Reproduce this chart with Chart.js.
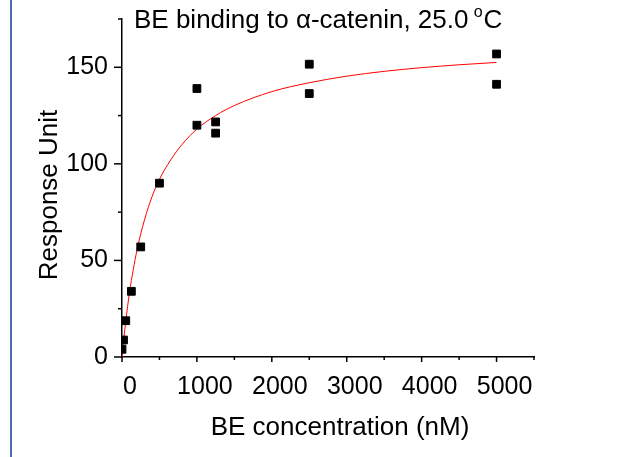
<!DOCTYPE html>
<html>
<head>
<meta charset="utf-8">
<script src="https://cdn.jsdelivr.net/npm/chart.js@4.4.1/dist/chart.umd.min.js"></script>
<style>
    html, body { margin: 0; padding: 0; background: #fff; }
</style>
</head>
<body>
<canvas id="graficoUnion" width="620" height="457"></canvas>
<script>
// puntos medidos (nM, RU)
const concentracion = [0, 20, 50, 125, 250, 500, 1000, 1000, 1250, 1250, 2500, 2500, 5000, 5000];
const respuesta = [4, 8.8, 18.8, 34, 57, 90, 120, 139, 121.7, 115.9, 151.6, 136.4, 156.9, 141.2];

// curva de ajuste
const ajusteX = [0, 25, 50, 100, 150, 200, 300, 400, 500, 650, 800, 1000, 1250, 1500, 2000, 2500, 3000, 3500, 4000, 4500, 5000];
const ajusteY = [0, 9.8, 18.3, 33.5, 45.1, 55.3, 71, 82.9, 92, 102, 110, 118, 125, 130.2, 137.4, 142, 145.4, 147.9, 149.8, 151.3, 152.5];

// marcas de los ejes
const marcasX = [0, 1000, 2000, 3000, 4000, 5000];
const marcasY = [0, 50, 100, 150];

const titulo = 'BE binding to \u03b1-catenin, 25.0 ';
const tituloX = 'BE concentration (nM)';
const tituloY = 'Response Unit';

const fuente = '"Liberation Sans", Arial, sans-serif';

const puntos = concentracion.map((c, i) => ({ x: c, y: respuesta[i] }));
const curva = ajusteX.map((c, i) => ({ x: c, y: ajusteY[i] }));

// dibuja marcas, titulos y la linea azul
const extras = {
    id: 'extras',
    afterDraw(chart) {
        const ctx = chart.ctx;
        const sx = chart.scales.x;
        const sy = chart.scales.y;
        const area = chart.chartArea;
        ctx.save();

        // linea azul a la izquierda
        ctx.strokeStyle = '#4a6ea9';
        ctx.lineWidth = 2;
        ctx.beginPath();
        ctx.moveTo(11, 0);
        ctx.lineTo(11, 457);
        ctx.stroke();

        // marcas del eje x
        ctx.strokeStyle = '#000';
        ctx.lineWidth = 1.5;
        for (let v = 0; v <= 5500; v += 500) {
            const px = sx.getPixelForValue(v);
            const largo = marcasX.includes(v) ? 5 : 3;
            ctx.beginPath();
            ctx.moveTo(px, area.bottom);
            ctx.lineTo(px, area.bottom + largo);
            ctx.stroke();
        }
        // marcas del eje y
        for (let v = 0; v <= 175; v += 25) {
            const py = sy.getPixelForValue(v);
            const largo = marcasY.includes(v) ? 8 : 4;
            ctx.beginPath();
            ctx.moveTo(area.left, py);
            ctx.lineTo(area.left - largo, py);
            ctx.stroke();
        }

        ctx.fillStyle = '#000';
        // titulo con el simbolo de grado
        ctx.font = '26px ' + fuente;
        ctx.textAlign = 'left';
        ctx.textBaseline = 'alphabetic';
        ctx.fillText(titulo, 134, 28);
        let w = ctx.measureText(titulo).width;
        ctx.font = '16px ' + fuente;
        ctx.fillText('o', 134 + w - 2, 17);
        const wo = ctx.measureText('o').width;
        ctx.font = '26px ' + fuente;
        ctx.fillText('C', 134 + w - 2 + wo + 1, 28);

        // titulo eje x
        ctx.textAlign = 'center';
        ctx.fillText(tituloX, 340, 435);

        // titulo eje y
        ctx.translate(50, 195);
        ctx.rotate(-Math.PI / 2);
        ctx.textBaseline = 'middle';
        ctx.fillText(tituloY, 0, 0);
        ctx.restore();
    }
};

const ctx = document.getElementById('graficoUnion').getContext('2d');
const graficoUnion = new Chart(ctx, {
    type: 'scatter',
    data: {
        datasets: [{
            label: 'datos',
            data: puntos,
            pointStyle: 'rect',
            pointRadius: 5.5,
            backgroundColor: '#000',
            borderColor: '#000',
            borderWidth: 1,
            order: 0
        }, {
            label: 'ajuste',
            data: curva,
            showLine: true,
            borderColor: '#ff0000',
            borderWidth: 1,
            pointRadius: 0,
            cubicInterpolationMode: 'monotone',
            order: 1
        }]
    },
    options: {
        responsive: false,
        animation: false,
        devicePixelRatio: 1,
        layout: { padding: { left: 0, right: 86, top: 19, bottom: 0 } },
        plugins: {
            legend: { display: false },
            tooltip: { enabled: false }
        },
        scales: {
            x: {
                type: 'linear',
                min: 0,
                max: 5500,
                grid: { display: false, drawTicks: false },
                border: { display: true, color: '#000', width: 1.5 },
                ticks: {
                    stepSize: 500,
                    autoSkip: false,
                    maxRotation: 0,
                    padding: 15,
                    labelOffset: 8,
                    color: '#000',
                    font: { family: fuente, size: 25 },
                    callback: v => marcasX.includes(v) ? v : ''
                },
                afterFit: s => {
                    s.height = 100;
                    s.paddingLeft = 0;
                    s.paddingRight = 0;
                }
            },
            y: {
                type: 'linear',
                min: 0,
                max: 175,
                grid: { display: false, drawTicks: false },
                border: { display: true, color: '#000', width: 1.5 },
                ticks: {
                    stepSize: 25,
                    autoSkip: false,
                    padding: 14,
                    color: '#000',
                    font: { family: fuente, size: 25 },
                    callback: v => marcasY.includes(v) ? v : ''
                },
                afterFit: s => {
                    s.width = 122;
                    s.paddingTop = 0;
                    s.paddingBottom = 0;
                }
            }
        }
    },
    plugins: [extras]
});
</script>
</body>
</html>
